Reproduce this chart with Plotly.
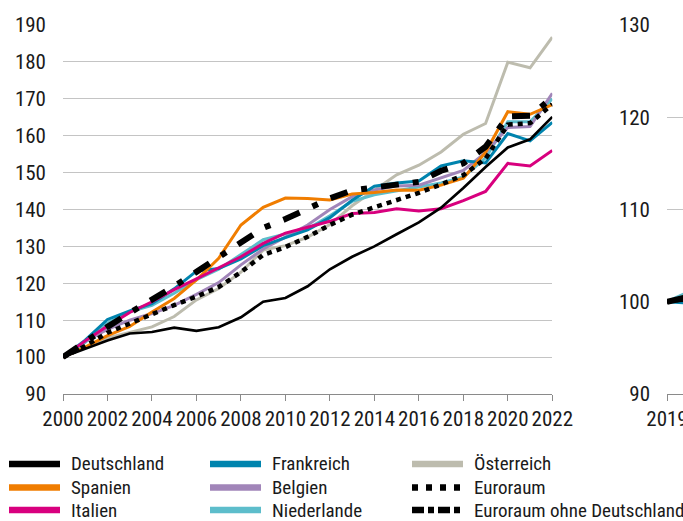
import plotly.graph_objects as go

# ---------------- data ----------------
years = list(range(2000, 2023))

deutschland = [100, 102.3, 104.5, 106.4, 106.8, 108.0, 107.1, 108.1, 110.8, 115.0, 116.0, 119.2,
               123.8, 127.2, 130.0, 133.3, 136.5, 140.5, 145.8, 151.5, 156.8, 159.0, 165.1]
spanien = [100, 102.7, 105.8, 108.3, 112.2, 115.9, 120.9, 126.8, 135.8, 140.6, 143.1, 143.0,
           142.6, 144.2, 144.6, 145.3, 145.2, 146.6, 148.5, 155.5, 166.5, 165.8, 168.4]
italien = [100, 104.4, 108.4, 112.1, 115.0, 118.3, 121.2, 124.2, 127.2, 130.8, 133.6, 135.2,
           136.8, 138.9, 139.2, 140.2, 139.6, 140.2, 142.4, 144.9, 152.5, 151.8, 156.0]
frankreich = [100, 104.6, 110.2, 112.5, 114.5, 118.5, 123.3, 124.0, 126.6, 130.2, 132.4, 134.5,
              137.8, 142.5, 146.3, 147.2, 147.7, 151.8, 153.2, 152.6, 160.6, 158.6, 163.6]
belgien = [100, 104.3, 107.5, 110.0, 111.8, 114.0, 117.0, 120.2, 125.0, 129.3, 132.5, 135.8,
           140.0, 143.5, 145.3, 146.4, 146.6, 148.6, 150.6, 155.4, 162.2, 162.5, 171.5]
niederlande = [100, 104.0, 109.2, 112.3, 114.0, 117.3, 121.0, 123.8, 127.8, 131.8, 133.4, 134.8,
               138.3, 142.2, 144.0, 145.0, 146.0, 147.2, 148.8, 154.0, 163.8, 163.8, 170.0]
oesterreich = [100, 102.6, 105.2, 106.7, 108.2, 111.0, 115.5, 118.6, 123.0, 129.0, 130.2, 132.5,
               135.9, 141.0, 145.3, 149.4, 152.0, 155.6, 160.4, 163.3, 179.9, 178.4, 186.7]
euroraum = [100, 103.0, 106.6, 109.2, 111.7, 114.1, 116.4, 119.0, 123.0, 127.7, 129.8, 132.6,
            135.8, 138.6, 140.6, 142.4, 144.5, 146.8, 149.3, 153.8, 163.0, 163.4, 168.5]
euroraum_ohne_de = [100, 104.3, 108.2, 112.0, 115.5, 119.2, 123.1, 127.0, 131.0, 135.0, 137.4, 140.2,
                    143.0, 145.2, 146.0, 146.7, 147.5, 150.5, 152.5, 157.0, 165.2, 165.4, 170.3]

# right panel (2019 = 100), only its beginning is visible
quarters = [2019.0, 2019.25]
r_deutschland = [100, 100.3]
r_spanien = [100, 101.3]
r_italien = [100, 100.6]
r_frankreich = [100, 99.7]
r_belgien = [100, 100.9]
r_niederlande = [100, 102.0]
r_oesterreich = [100, 101.0]
r_euroraum = [100, 100.8]
r_euroraum_ohne_de = [100, 101.0]

left_yticks = list(range(90, 200, 10))
left_xticks = list(range(2000, 2023, 2))
right_yticks = [90, 100, 110, 120, 130]
right_xticks = [2019]

# ---------------- styles ----------------
series = [
    # name, left data, right data, color, width, dash
    ("Österreich", oesterreich, r_oesterreich, "#BDBCAE", 3, "solid"),
    ("Niederlande", niederlande, r_niederlande, "#5DBDCB", 3, "solid"),
    ("Belgien", belgien, r_belgien, "#A185B9", 3, "solid"),
    ("Frankreich", frankreich, r_frankreich, "#0084AE", 3, "solid"),
    ("Spanien", spanien, r_spanien, "#F07D00", 3, "solid"),
    ("Italien", italien, r_italien, "#D8007E", 3, "solid"),
    ("Deutschland", deutschland, r_deutschland, "#000000", 2.7, "solid"),
    ("Euroraum", euroraum, r_euroraum, "#000000", 4.5, "5px,5px"),
    ("Euroraum ohne Deutschland", euroraum_ohne_de, r_euroraum_ohne_de, "#000000", 6, "18px,14px,6px,14px"),
]

W, H = 683, 521
ML, MR, MT, MB = 63, 0, 25, 127
PW, PH = W - ML - MR, H - MT - MB
FONT = "Liberation Sans Narrow, Arial Narrow, Roboto Condensed, DejaVu Sans Condensed, sans-serif"


def px_x(p):
    return (p - ML) / PW


def px_y(p):
    return (H - MB - p) / PH


fig = go.Figure()
for name, yl, yr, col, w, dash in series:
    fig.add_trace(go.Scatter(x=years, y=yl, mode="lines", name=name, showlegend=False,
                             line=dict(color=col, width=w, dash=dash), xaxis="x", yaxis="y",
                             hoverinfo="skip"))
    fig.add_trace(go.Scatter(x=quarters, y=yr, mode="lines", name=name, showlegend=False,
                             line=dict(color=col, width=w, dash=dash), xaxis="x2", yaxis="y2",
                             hoverinfo="skip"))

# ---------------- manual legend ----------------
legend_items = [
    ("Deutschland", "#000000", "solid", 0, 0),
    ("Spanien", "#F07D00", "solid", 0, 1),
    ("Italien", "#D8007E", "solid", 0, 2),
    ("Frankreich", "#0084AE", "solid", 1, 0),
    ("Belgien", "#A185B9", "solid", 1, 1),
    ("Niederlande", "#5DBDCB", "solid", 1, 2),
    ("Österreich", "#BDBCAE", "solid", 2, 0),
    ("Euroraum", "#000000", "6px,8px", 2, 1),
    ("Euroraum ohne Deutschland", "#000000", "12px,4px,6px,4px", 2, 2),
]
col_sw = [9, 210, 412]
col_txt = [70, 271, 473]
row_y = [464, 487.5, 510]
shapes = []
annotations = []
for name, col, dash, c, r in legend_items:
    shapes.append(dict(type="line", xref="paper", yref="paper",
                       x0=px_x(col_sw[c]), x1=px_x(col_sw[c] + 51),
                       y0=px_y(row_y[r]), y1=px_y(row_y[r]),
                       line=dict(color=col, width=6.5, dash=dash)))
    annotations.append(dict(text=name, xref="paper", yref="paper", x=px_x(col_txt[c]),
                            y=px_y(row_y[r]), xanchor="left", yanchor="middle", showarrow=False,
                            borderpad=0,
                            font=dict(size=19, color="#1a1a1a", family=FONT)))

x2_start = px_x(667)

common_x = dict(showgrid=False, zeroline=False, showline=True, linecolor="#8a8a8a", linewidth=1.3,
                ticks="outside", ticklen=6, tickcolor="#8a8a8a", tickwidth=1.3, tickangle=0,
                automargin=False, ticklabeloverflow="allow",
                tickfont=dict(size=21, family=FONT, color="#1a1a1a"), fixedrange=True)
common_y = dict(showgrid=True, gridcolor="#c4c4c4", gridwidth=1.3, zeroline=False, showline=False,
                ticks="", ticklabelstandoff=16, automargin=False,
                tickfont=dict(size=21, family=FONT, color="#1a1a1a"), fixedrange=True)

fig.update_layout(
    width=W, height=H, autosize=False,
    margin=dict(l=ML, r=MR, t=MT, b=MB, pad=0, autoexpand=False),
    paper_bgcolor="white", plot_bgcolor="white",
    font=dict(family=FONT, size=21, color="#1a1a1a"),
    showlegend=False,
    shapes=shapes,
    annotations=annotations,
    xaxis=dict(domain=[0, px_x(552.3)], range=[2000, 2022], tickvals=left_xticks, anchor="y", **common_x),
    yaxis=dict(domain=[0, 1], range=[90, 190], tickvals=left_yticks, anchor="x", **common_y),
    xaxis2=dict(domain=[x2_start, 1], range=[2019, 2019.1], tickvals=right_xticks, tickformat="d",
                anchor="y2", **common_x),
    yaxis2=dict(domain=[0, 1], range=[90, 130], tickvals=right_yticks, anchor="x2", **common_y),
)

fig.write_html("out.html", include_plotlyjs=True, config={"displayModeBar": False},
               post_script="document.body.style.margin='0';document.body.style.overflow='hidden';")
